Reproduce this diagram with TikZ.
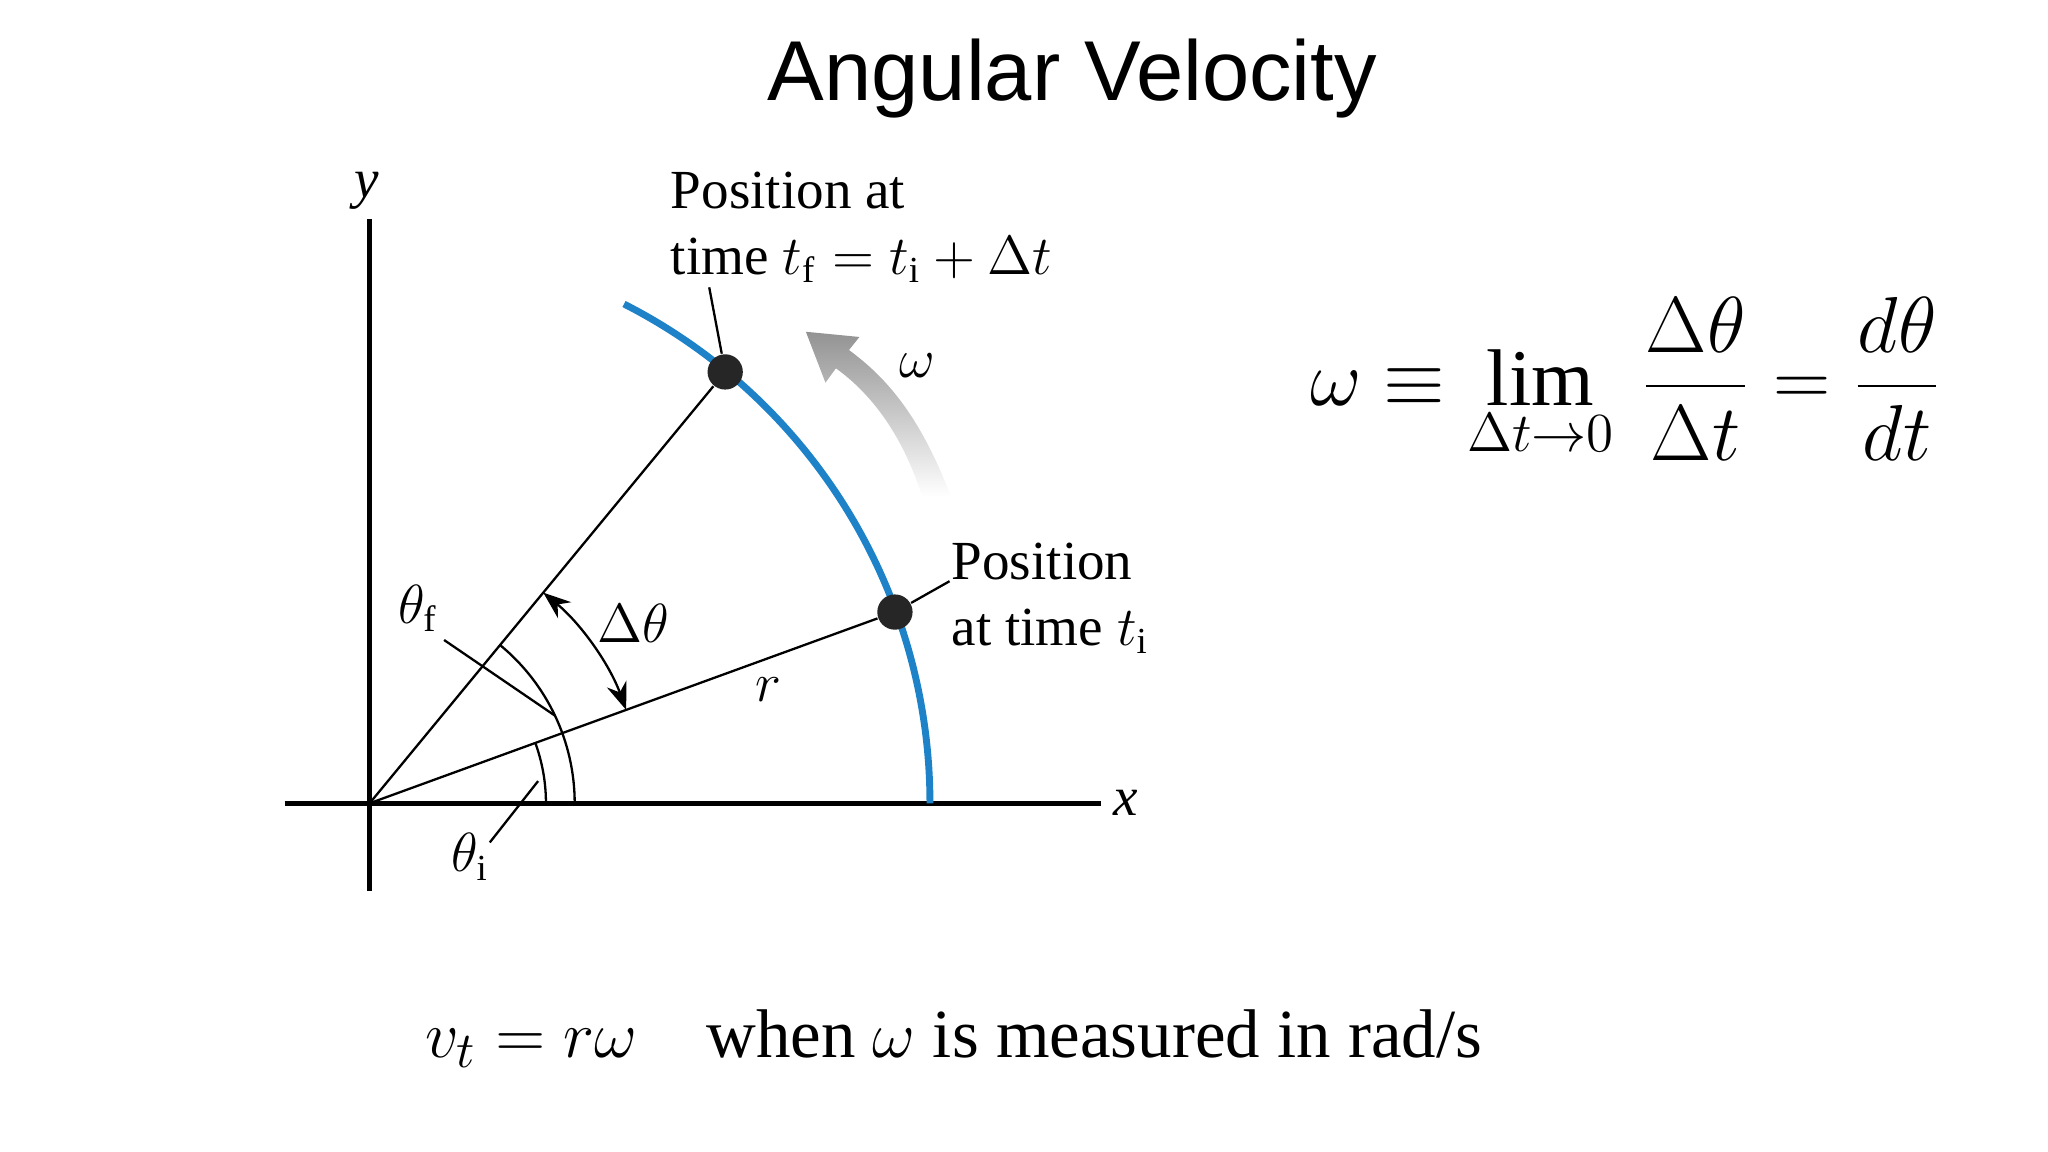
\documentclass[tikz,border=0pt]{standalone}
\usepackage{fontspec}
\setmainfont{Liberation Serif}
\newfontfamily\titlefont{Liberation Sans}
\usetikzlibrary{arrows.meta}
\definecolor{arcblue}{RGB}{30,130,200}
\begin{document}
\begin{tikzpicture}[x=0.01cm,y=-0.01cm,
  lbl/.style={inner sep=0pt,font=\fontsize{12}{14.5}\selectfont,align=left},
  thinl/.style={line width=0.5pt},
  dot/.style={circle,fill=black!85,minimum size=0.27cm,inner sep=0pt}]
\useasboundingbox (0,0) rectangle (1568,882);
\node[font=\titlefont\fontsize{18.5}{22}\selectfont] (title) at (821,60) {Angular Velocity};
\coordinate (O) at (283,615);
\coordinate (xl) at (218,615); \coordinate (xr) at (843,615);
\coordinate (yt) at (283,168); \coordinate (yb) at (283,682);
\draw[line width=1.2pt] (xl) -- (xr);
\draw[line width=1.2pt] (yb) -- (yt);
\node[lbl,font=\itshape\fontsize{12}{14}\selectfont] (xlab) at (862,615) {x};
\node[lbl,font=\itshape\fontsize{12}{14}\selectfont] (ylab) at (281,146) {y};
\draw[arcblue,line width=1.5pt] ([shift={(0:429)}]O) arc[start angle=0,end angle=-63,radius=429];
\node[dot] (pi) at ([shift={(-20:428)}]O) {};
\node[dot] (pf) at ([shift={(-50.5:428)}]O) {};
\draw[thinl] (O) -- (pi);
\draw[thinl] (O) -- (pf);
\draw[thinl] ([shift={(0:135)}]O) arc[start angle=0,end angle=-20,radius=135];
\draw[thinl] ([shift={(0:157)}]O) arc[start angle=0,end angle=-50.5,radius=157];
\draw[thinl,{Stealth[length=6pt]}-{Stealth[length=6pt]}] ([shift={(-20:209)}]O) arc[start angle=-20,end angle=-50.5,radius=209];
\node[lbl] (thf) at (320,466) {$\theta_{\mathrm{f}}$};
\draw[thinl] (340,490) -- (425,548);
\node[lbl] (thi) at (360,656) {$\theta_{\mathrm{i}}$};
\draw[thinl] (375,645) -- (412,598);
\node[lbl] (dth) at (485,477) {$\Delta\theta$};
\node[lbl] (r) at (588,528) {$r$};
\node[lbl] (om) at (702,280) {$\omega$};
\shade[top color=gray!85,bottom color=white] (728,380) .. controls (705,320) and (680,290) .. (650,268) -- (658,258) -- (617,254) -- (632,293) -- (640,282) .. controls (665,300) and (690,330) .. (706,380) -- cycle;
\node[lbl,anchor=west] (posf) at (513,174) {Position at\\time $t_{\mathrm{f}} = t_{\mathrm{i}} + \Delta t$};
\draw[thinl] (543,220) -- (pf);
\node[lbl,anchor=west] (posi) at (728,458) {Position\\at time $t_{\mathrm{i}}$};
\draw[thinl] (pi) -- (727,445);
\node[font=\fontsize{17.5}{21}\selectfont] (eq) at (1245,290) {$\displaystyle \omega \equiv \lim_{\Delta t\to 0}\,\frac{\Delta\theta}{\Delta t} = \frac{d\theta}{dt}$};
\node[font=\fontsize{15}{18}\selectfont,anchor=west] (vt) at (313,795) {$v_t = r\omega$\quad when $\omega$ is measured in rad/s};
\end{tikzpicture}
\end{document}
